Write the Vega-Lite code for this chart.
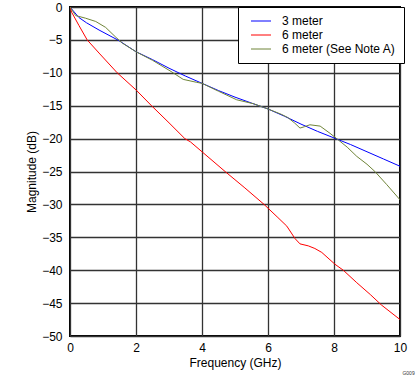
{
  "$schema": "https://vega.github.io/schema/vega-lite/v6.json",
  "width": 330,
  "height": 329,
  "autosize": "none",
  "padding": {"left": 70, "top": 7, "right": 19, "bottom": 46},
  "background": "white",
  "title": {"text": "G009", "orient": "bottom", "anchor": "end", "fontSize": 5, "font": "Liberation Sans", "fontWeight": "normal", "color": "#333", "offset": 3, "dx": 8},
  "config": {
    "font": "Liberation Sans",
    "view": {"stroke": "black", "strokeWidth": 2},
    "axis": {"labelFont": "Liberation Sans", "titleFont": "Liberation Sans", "labelFontSize": 12, "titleFontSize": 12, "titleFontWeight": "normal", "labelColor": "black", "titleColor": "black", "gridColor": "#333333", "gridWidth": 1.3, "gridOpacity": 1, "domain": false, "ticks": false}
  },
  "data": {"values": [
    {"s": "3 meter", "f": 0, "db": 0},
    {"s": "3 meter", "f": 0.27, "db": -1.6},
    {"s": "3 meter", "f": 0.5, "db": -2.4},
    {"s": "3 meter", "f": 0.88, "db": -3.5},
    {"s": "3 meter", "f": 1.48, "db": -5.1},
    {"s": "3 meter", "f": 2, "db": -6.8},
    {"s": "3 meter", "f": 2.5, "db": -8.0},
    {"s": "3 meter", "f": 3, "db": -9.3},
    {"s": "3 meter", "f": 3.5, "db": -10.5},
    {"s": "3 meter", "f": 4, "db": -11.6},
    {"s": "3 meter", "f": 4.5, "db": -12.7},
    {"s": "3 meter", "f": 5, "db": -13.7},
    {"s": "3 meter", "f": 5.5, "db": -14.6},
    {"s": "3 meter", "f": 6, "db": -15.5},
    {"s": "3 meter", "f": 6.5, "db": -16.6},
    {"s": "3 meter", "f": 7, "db": -17.8},
    {"s": "3 meter", "f": 7.5, "db": -18.9},
    {"s": "3 meter", "f": 8, "db": -19.9},
    {"s": "3 meter", "f": 8.5, "db": -20.9},
    {"s": "3 meter", "f": 9, "db": -22.0},
    {"s": "3 meter", "f": 9.5, "db": -23.1},
    {"s": "3 meter", "f": 10, "db": -24.2},
    {"s": "6 meter", "f": 0, "db": 0},
    {"s": "6 meter", "f": 0.05, "db": -0.8},
    {"s": "6 meter", "f": 0.27, "db": -2.8},
    {"s": "6 meter", "f": 0.52, "db": -5.0},
    {"s": "6 meter", "f": 0.88, "db": -7.0},
    {"s": "6 meter", "f": 1.43, "db": -10.0},
    {"s": "6 meter", "f": 2, "db": -12.6},
    {"s": "6 meter", "f": 2.47, "db": -15.0},
    {"s": "6 meter", "f": 3, "db": -17.6},
    {"s": "6 meter", "f": 3.48, "db": -20.0},
    {"s": "6 meter", "f": 3.65, "db": -20.5},
    {"s": "6 meter", "f": 4, "db": -22.0},
    {"s": "6 meter", "f": 4.7, "db": -25.0},
    {"s": "6 meter", "f": 5.3, "db": -27.5},
    {"s": "6 meter", "f": 5.88, "db": -30.0},
    {"s": "6 meter", "f": 6.3, "db": -32.0},
    {"s": "6 meter", "f": 6.57, "db": -33.3},
    {"s": "6 meter", "f": 6.82, "db": -35.2},
    {"s": "6 meter", "f": 6.97, "db": -36.0},
    {"s": "6 meter", "f": 7.22, "db": -36.3},
    {"s": "6 meter", "f": 7.42, "db": -36.7},
    {"s": "6 meter", "f": 7.63, "db": -37.3},
    {"s": "6 meter", "f": 8.03, "db": -39.1},
    {"s": "6 meter", "f": 8.28, "db": -40.0},
    {"s": "6 meter", "f": 8.69, "db": -41.9},
    {"s": "6 meter", "f": 9.1, "db": -43.7},
    {"s": "6 meter", "f": 9.44, "db": -45.3},
    {"s": "6 meter", "f": 10, "db": -47.5},
    {"s": "6 meter (See Note A)", "f": 0, "db": 0},
    {"s": "6 meter (See Note A)", "f": 0.17, "db": -1.3},
    {"s": "6 meter (See Note A)", "f": 0.47, "db": -1.7},
    {"s": "6 meter (See Note A)", "f": 0.78, "db": -2.2},
    {"s": "6 meter (See Note A)", "f": 1.08, "db": -3.1},
    {"s": "6 meter (See Note A)", "f": 1.39, "db": -4.6},
    {"s": "6 meter (See Note A)", "f": 1.59, "db": -5.5},
    {"s": "6 meter (See Note A)", "f": 2, "db": -6.8},
    {"s": "6 meter (See Note A)", "f": 2.5, "db": -8.1},
    {"s": "6 meter (See Note A)", "f": 3.03, "db": -9.7},
    {"s": "6 meter (See Note A)", "f": 3.43, "db": -11.0},
    {"s": "6 meter (See Note A)", "f": 3.84, "db": -11.45},
    {"s": "6 meter (See Note A)", "f": 4, "db": -11.6},
    {"s": "6 meter (See Note A)", "f": 4.5, "db": -12.8},
    {"s": "6 meter (See Note A)", "f": 5.05, "db": -14.1},
    {"s": "6 meter (See Note A)", "f": 5.56, "db": -14.7},
    {"s": "6 meter (See Note A)", "f": 6, "db": -15.5},
    {"s": "6 meter (See Note A)", "f": 6.4, "db": -16.3},
    {"s": "6 meter (See Note A)", "f": 6.6, "db": -16.8},
    {"s": "6 meter (See Note A)", "f": 6.8, "db": -17.6},
    {"s": "6 meter (See Note A)", "f": 6.97, "db": -18.4},
    {"s": "6 meter (See Note A)", "f": 7.1, "db": -18.2},
    {"s": "6 meter (See Note A)", "f": 7.27, "db": -17.9},
    {"s": "6 meter (See Note A)", "f": 7.58, "db": -18.1},
    {"s": "6 meter (See Note A)", "f": 7.88, "db": -19.2},
    {"s": "6 meter (See Note A)", "f": 8.13, "db": -20.2},
    {"s": "6 meter (See Note A)", "f": 8.4, "db": -21.3},
    {"s": "6 meter (See Note A)", "f": 8.69, "db": -22.7},
    {"s": "6 meter (See Note A)", "f": 9, "db": -23.9},
    {"s": "6 meter (See Note A)", "f": 9.24, "db": -25.0},
    {"s": "6 meter (See Note A)", "f": 9.6, "db": -27.0},
    {"s": "6 meter (See Note A)", "f": 10, "db": -29.3}
  ]},
  "mark": {"type": "line", "strokeWidth": 1, "clip": true},
  "encoding": {
    "x": {"field": "f", "type": "quantitative", "title": "Frequency (GHz)", "scale": {"domain": [0, 10], "nice": false}, "axis": {"values": [0, 2, 4, 6, 8, 10], "labelPadding": 6, "titlePadding": 4, "labelFlush": false}},
    "y": {"field": "db", "type": "quantitative", "title": "Magnitude (dB)", "scale": {"domain": [-50, 0], "nice": false}, "axis": {"values": [-50, -45, -40, -35, -30, -25, -20, -15, -10, -5, 0], "labelPadding": 8, "titlePadding": 3}},
    "color": {"field": "s", "type": "nominal", "scale": {"domain": ["3 meter", "6 meter", "6 meter (See Note A)"], "range": ["#0000ff", "#ff0000", "#6f8438"]},
      "legend": {"title": null, "orient": "none", "legendX": 168, "legendY": 0, "fillColor": "white", "strokeColor": "black", "padding": 8, "symbolType": "M-2,0H2", "symbolSize": 100, "symbolOffset": 9, "symbolStrokeWidth": 1, "labelFontSize": 12, "labelFont": "Liberation Sans", "labelColor": "black", "rowPadding": 2, "labelOffset": 15}}
  }
}
